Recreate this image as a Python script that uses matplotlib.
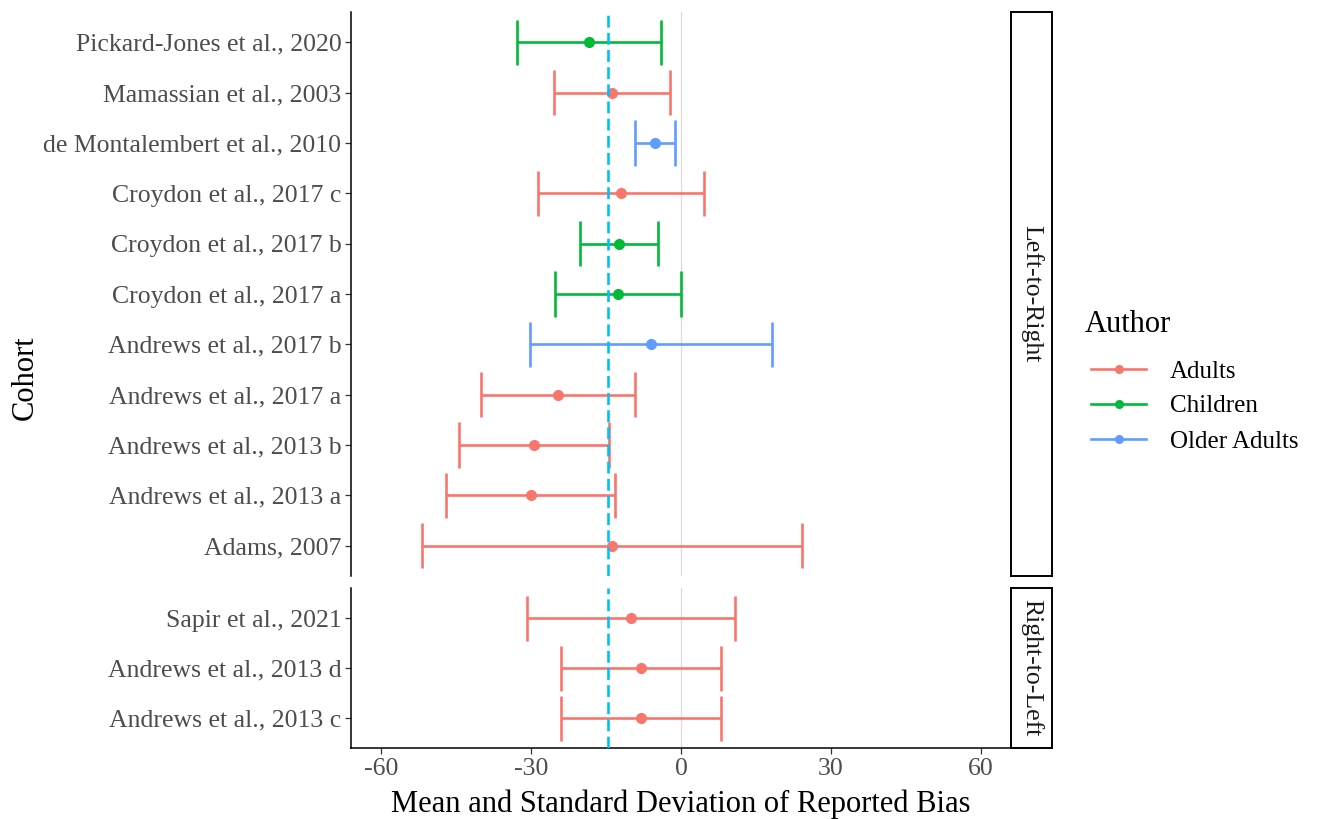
import matplotlib
matplotlib.use("Agg")
import matplotlib.pyplot as plt
from matplotlib.lines import Line2D

plt.rcParams['font.family'] = ['Liberation Serif', 'DejaVu Serif']

# ---- data (top to bottom within each panel) ----
ltr_cohorts = ["Pickard-Jones et al., 2020", "Mamassian et al., 2003",
               "de Montalembert et al., 2010", "Croydon et al., 2017 c",
               "Croydon et al., 2017 b", "Croydon et al., 2017 a",
               "Andrews et al., 2017 b", "Andrews et al., 2017 a",
               "Andrews et al., 2013 b", "Andrews et al., 2013 a",
               "Adams, 2007"]
ltr_group = ["Children", "Adults", "Older Adults", "Adults", "Children",
             "Children", "Older Adults", "Adults", "Adults", "Adults", "Adults"]
ltr_mean = [-18.4, -13.8, -5.3, -12.0, -12.4, -12.6, -6.0, -24.7, -29.5, -30.1, -13.9]
ltr_sd = [14.4, 11.6, 4.0, 16.6, 7.8, 12.6, 24.2, 15.4, 15.0, 16.9, 38.0]

rtl_cohorts = ["Sapir et al., 2021", "Andrews et al., 2013 d", "Andrews et al., 2013 c"]
rtl_group = ["Adults", "Adults", "Adults"]
rtl_mean = [-10.0, -8.1, -8.1]
rtl_sd = [20.8, 16.0, 16.0]

overall_mean = -14.7

groups = ["Adults", "Children", "Older Adults"]
colors = {"Adults": "#F8766D", "Children": "#00BA38", "Older Adults": "#619CFF"}

W, H = 1317, 819
fig = plt.figure(figsize=(W / 100, H / 100), dpi=100)

TXT = 18.5
TITLE = 22


def px_axes(x0, y0, x1, y1):
    return fig.add_axes([x0 / W, 1 - y1 / H, (x1 - x0) / W, (y1 - y0) / H])


ax_top = px_axes(351, 12, 1011, 576)
ax_bot = px_axes(351, 588, 1011, 748)


def draw_panel(ax, cohorts, grp, mean, sd, show_x):
    n = len(cohorts)
    ys = list(range(n - 1, -1, -1))
    ax.axvline(0, color="#DCDCDC", lw=0.9, zorder=1)
    for y, g, m, s in zip(ys, grp, mean, sd):
        c = colors[g]
        ax.hlines(y, m - s, m + s, color=c, lw=1.9, zorder=2)
        ax.vlines([m - s, m + s], y - 0.45, y + 0.45, color=c, lw=1.9, zorder=2)
        ax.plot(m, y, "o", color=c, ms=7, zorder=3)
    ax.axvline(overall_mean, color="#00BFFF", lw=1.9, ls=(0, (4.5, 2)), zorder=4)
    ax.set_xlim(-66, 66)
    ax.set_ylim(-0.6, n - 0.4)
    ax.set_yticks(ys)
    ax.set_yticklabels(cohorts, fontsize=TXT, color="#4D4D4D")
    ax.set_xticks([-60, -30, 0, 30, 60])
    for side in ["top", "right"]:
        ax.spines[side].set_visible(False)
    for side in ["left", "bottom"]:
        ax.spines[side].set_linewidth(1.1)
    ax.tick_params(axis="both", length=4, width=0.9, color="#333333", pad=3)
    if show_x:
        ax.set_xticklabels(["-60", "-30", "0", "30", "60"], fontsize=TXT, color="#4D4D4D")
    else:
        ax.spines["bottom"].set_visible(False)
        ax.tick_params(axis="x", bottom=False, labelbottom=False)


draw_panel(ax_top, ltr_cohorts, ltr_group, ltr_mean, ltr_sd, False)
draw_panel(ax_bot, rtl_cohorts, rtl_group, rtl_mean, rtl_sd, True)
ax_bot.set_xlabel("Mean and Standard Deviation of Reported Bias", fontsize=TITLE, labelpad=7)

# facet strips
for (y0, y1, lab) in [(12, 576, "Left-to-Right"), (588, 748, "Right-to-Left")]:
    s = px_axes(1011, y0, 1052, y1)
    s.set_xticks([])
    s.set_yticks([])
    for sp in s.spines.values():
        sp.set_linewidth(1.4)
        sp.set_color("black")
    s.text(0.5, 0.5, lab, rotation=-90, ha="center", va="center",
           fontsize=TXT, color="#1A1A1A", transform=s.transAxes)

fig.text(25 / W, 1 - 378 / H, "Cohort", rotation=90, ha="center", va="center", fontsize=TITLE)

# legend
fig.text(1085 / W, 1 - 325 / H, "Author", ha="left", va="center", fontsize=TITLE)
handles = [Line2D([0], [0], color=colors[g], lw=1.9, marker="o", ms=5.5) for g in groups]
leg = fig.legend(handles, groups, loc="upper left",
                 bbox_to_anchor=(1091 / W, 1 - 360 / H), frameon=False,
                 borderpad=0, borderaxespad=0,
                 fontsize=18, handlelength=2.2,
                 handletextpad=0.95, labelspacing=0.5)

fig.savefig("out.png", dpi=100)
